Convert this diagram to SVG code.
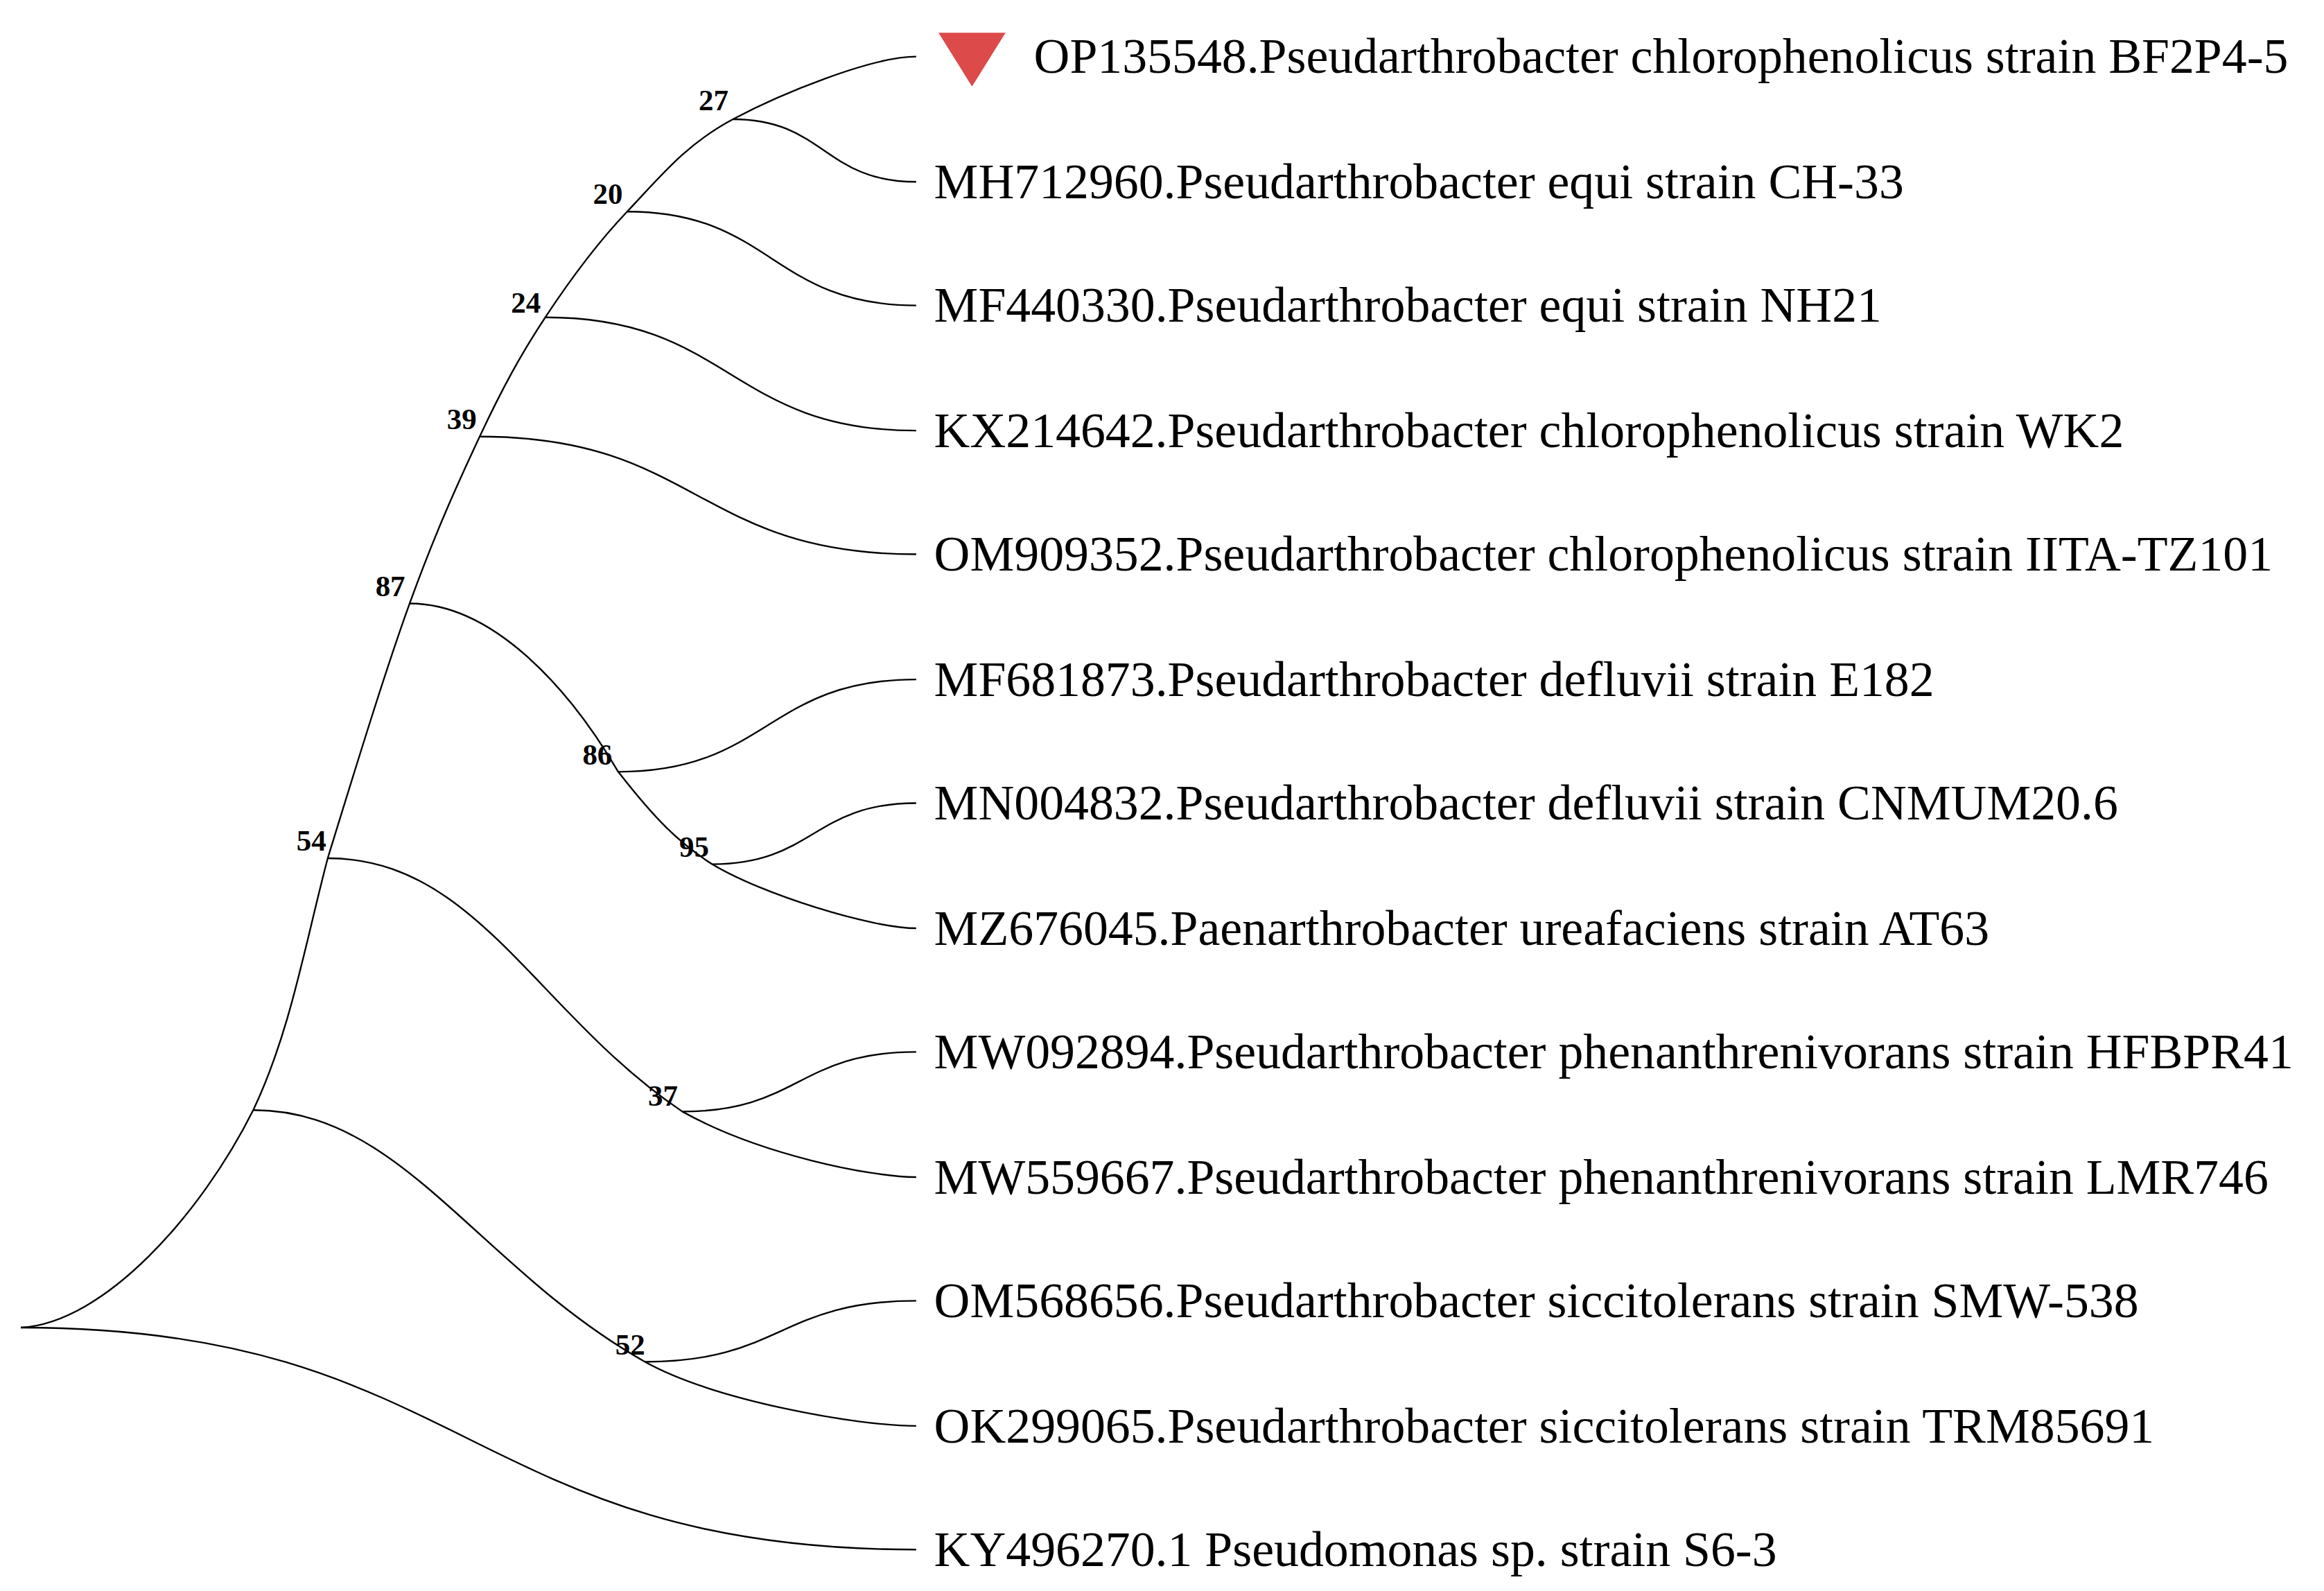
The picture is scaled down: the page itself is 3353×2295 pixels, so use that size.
<svg xmlns="http://www.w3.org/2000/svg" width="3353" height="2295" viewBox="0 0 3353 2295">
<style>
.e{fill:none;stroke:#000;stroke-width:1.1}
.t{font-family:"Liberation Serif",serif;font-size:33.4px;fill:#000}
.b{font-family:"Liberation Serif",serif;font-size:20px;font-weight:bold;fill:#000;text-anchor:middle}
</style>
<rect width="3353" height="2295" fill="#fff"/>
<g transform="scale(2.1493)">
<g id="connectors">
<path class="e" d="M14,891 C70,888 135,815 170,745 C195,692.5 205,632.7 220,576 C237.5,519.3 258,452 275,405 C292,358 307,325 322,293 C337,261 349.5,238 366,213 C382.5,188 400,164 421,142 C442,120 460,97 492,80 C524,63 585,38 615,38"/>
<path class="e" d="M275,405 C330,405 381,460 415,518 C440,550 455,565 478,580 C511,600 585,623 615,623"/>
<path class="e" d="M220,576 C320,576 360,680 458,746 C510,775 585,790 615,790"/>
<path class="e" d="M170,745 C270,745 320,850 433,914 C480,940 575,957 615,957"/>
<path class="e" d="M14,891 C314,891 314,1040 615,1040"/>
<path class="e" d="M492,80 C553,80 553,122 615,122"/>
<path class="e" d="M421,142 C518,142 518,205 615,205"/>
<path class="e" d="M366,213 C490,213 490,289 615,289"/>
<path class="e" d="M322,293 C468,293 468,372 615,372"/>
<path class="e" d="M415,518 C515,518 515,456 615,456"/>
<path class="e" d="M478,580 C546,580 546,539 615,539"/>
<path class="e" d="M458,746 C536,746 536,706 615,706"/>
<path class="e" d="M433,914 C524,914 524,873 615,873"/>
</g>
<g id="bootstrap">
<text class="b" x="479" y="74">27</text>
<text class="b" x="408" y="137">20</text>
<text class="b" x="353" y="210">24</text>
<text class="b" x="310" y="288">39</text>
<text class="b" x="262" y="400">87</text>
<text class="b" x="401" y="513">86</text>
<text class="b" x="466" y="575">95</text>
<text class="b" x="209" y="571">54</text>
<text class="b" x="445" y="742">37</text>
<text class="b" x="423" y="909">52</text>
</g>
<g id="n1"><polygon points="630,22 675,22 652.5,58" fill="#DC4A4A"/><text class="t" x="694" y="49">OP135548.Pseudarthrobacter chlorophenolicus strain BF2P4-5</text></g>
<g id="n2"><text class="t" x="627" y="133">MH712960.Pseudarthrobacter equi strain CH-33</text></g>
<g id="n3"><text class="t" x="627" y="216">MF440330.Pseudarthrobacter equi strain NH21</text></g>
<g id="n4"><text class="t" x="627" y="300">KX214642.Pseudarthrobacter chlorophenolicus strain WK2</text></g>
<g id="n5"><text class="t" x="627" y="383">OM909352.Pseudarthrobacter chlorophenolicus strain IITA-TZ101</text></g>
<g id="n6"><text class="t" x="627" y="467">MF681873.Pseudarthrobacter defluvii strain E182</text></g>
<g id="n7"><text class="t" x="627" y="550">MN004832.Pseudarthrobacter defluvii strain CNMUM20.6</text></g>
<g id="n8"><text class="t" x="627" y="634">MZ676045.Paenarthrobacter ureafaciens strain AT63</text></g>
<g id="n9"><text class="t" x="627" y="717">MW092894.Pseudarthrobacter phenanthrenivorans strain HFBPR41</text></g>
<g id="n10"><text class="t" x="627" y="801">MW559667.Pseudarthrobacter phenanthrenivorans strain LMR746</text></g>
<g id="n11"><text class="t" x="627" y="884">OM568656.Pseudarthrobacter siccitolerans strain SMW-538</text></g>
<g id="n12"><text class="t" x="627" y="968">OK299065.Pseudarthrobacter siccitolerans strain TRM85691</text></g>
<g id="n13"><text class="t" x="627" y="1051">KY496270.1 Pseudomonas sp. strain S6-3</text></g>
</g>
</svg>
